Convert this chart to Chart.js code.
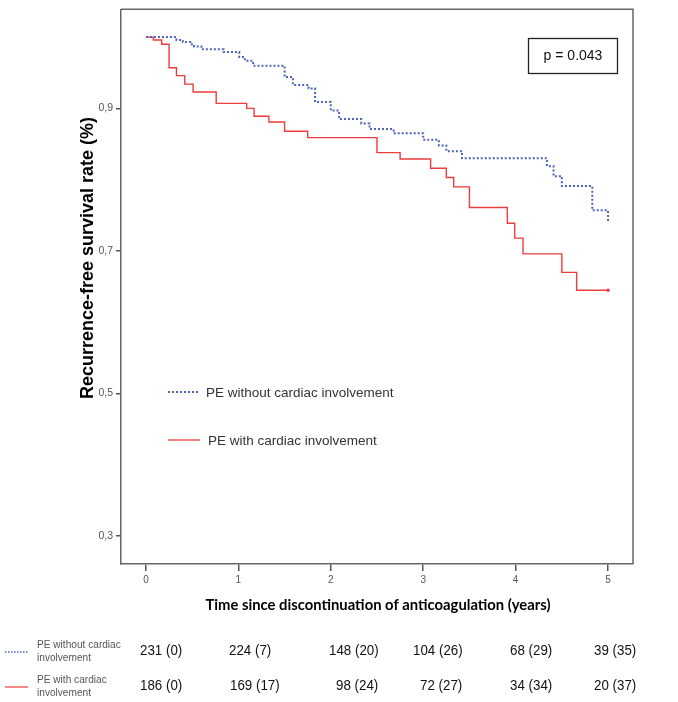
<!DOCTYPE html>
<html>
<head>
<meta charset="utf-8">
<script src="https://cdn.jsdelivr.net/npm/chart.js@4.4.1/dist/chart.umd.min.js"></script>
<style>
body{margin:0;background:#fff}
#wrap{width:678px;height:702px;position:relative}
</style>
</head>
<body>
<div id="wrap"><canvas id="km" width="678" height="702"></canvas></div>
<script>
// Kaplan-Meier steps
let timesWithout=[0,0.33,0.40,0.48,0.52,0.60,0.84,1.01,1.07,1.16,1.50,1.59,1.76,1.83,2.00,2.09,2.33,2.42,2.68,3.00,3.17,3.25,3.42,4.34,4.41,4.50,4.83,5.00]
let survWithout=[1.0,0.996,0.993,0.990,0.987,0.983,0.979,0.972,0.967,0.960,0.944,0.933,0.928,0.909,0.897,0.885,0.879,0.871,0.865,0.856,0.848,0.840,0.830,0.819,0.805,0.791,0.757,0.740]

let timesWith=[0,0.08,0.17,0.25,0.33,0.42,0.51,0.76,1.09,1.17,1.33,1.50,1.75,2.50,2.75,3.08,3.25,3.33,3.50,3.91,3.99,4.08,4.50,4.66,5.00]
let survWith=[1.0,0.996,0.990,0.957,0.946,0.934,0.923,0.907,0.900,0.889,0.881,0.868,0.859,0.838,0.829,0.816,0.803,0.790,0.761,0.739,0.718,0.696,0.670,0.645,0.645]

let xTicks=[0,1,2,3,4,5]
let yTicks=[0.3,0.5,0.7,0.9]

let seriesNames=['PE without cardiac involvement','PE with cardiac involvement']
let rowNames=[['PE without cardiac','involvement'],['PE with cardiac','involvement']]
let riskWithout=['231 (0)','224 (7)','148 (20)','104 (26)','68 (29)','39 (35)']
let riskWith=['186 (0)','169 (17)','98 (24)','72 (27)','34 (34)','20 (37)']
let pText='p = 0.043'

const BLUE='#4f63b8'
const RED='#ee3b3b'

function pts(t,s){
  let out=[]
  for(let i=0;i<t.length;i++){ out.push({x:t[i],y:s[i]}) }
  return out
}

// narrow look: squeeze text horizontally
function narrowText(c,txt,x,y,k){
  let w=c.measureText(txt).width
  c.fillText(txt,x,y,w*k)
}

// frame, legend, p box, titles and risk table
const extras={
  id:'extras',
  afterDraw(chart){
    const c=chart.ctx
    const a=chart.chartArea
    c.save()
    c.strokeStyle='#666'
    c.lineWidth=1.5
    c.beginPath()
    c.moveTo(a.left,a.top);c.lineTo(a.right,a.top);c.lineTo(a.right,a.bottom)
    c.stroke()

    // p value box
    c.strokeStyle='#222';c.lineWidth=1.3
    c.strokeRect(528.5,38.5,89,35)
    c.fillStyle='#111'
    c.font='14px "Liberation Sans", Arial, sans-serif'
    c.textAlign='center';c.textBaseline='middle'
    c.fillText(pText,573,56)

    // legend inside plot
    c.textAlign='left'
    c.font='13.5px "Liberation Sans", Arial, sans-serif'
    c.fillStyle='#333'
    c.lineWidth=2;c.strokeStyle=BLUE;c.setLineDash([2,2])
    c.beginPath();c.moveTo(168,392);c.lineTo(200,392);c.stroke()
    c.fillText(seriesNames[0],206,393)
    c.setLineDash([]);c.lineWidth=1.3;c.strokeStyle=RED
    c.beginPath();c.moveTo(168,440);c.lineTo(200,440);c.stroke()
    c.fillText(seriesNames[1],208,441)

    // axis titles
    c.fillStyle='#000'
    c.font='bold 18px "Liberation Sans", Arial, sans-serif'
    c.save()
    c.translate(88,258);c.rotate(-Math.PI/2)
    c.textAlign='center'
    c.fillText('Recurrence-free survival rate (%)',0,0)
    c.restore()
    c.font='bold 14.8px Lato, "Open Sans", sans-serif'
    c.textAlign='center'
    c.fillText('Time since discontinuation of anticoagulation (years)',378,605)

    // number at risk table
    const rowY=[651,686]
    const cols=[[140,229,329,413,510,594],[140,230,336,420,510,594]]
    const rows=[riskWithout,riskWith]
    for(let r=0;r<2;r++){
      c.lineWidth=r==0?1.5:1.2
      c.strokeStyle=r==0?BLUE:RED
      c.setLineDash(r==0?[1.5,1.5]:[])
      c.beginPath();c.moveTo(5,rowY[r]+1);c.lineTo(28,rowY[r]+1);c.stroke()
      c.setLineDash([])
      c.fillStyle='#555'
      c.textAlign='left'
      c.font='11.5px "Liberation Sans", Arial, sans-serif'
      narrowText(c,rowNames[r][0],37,rowY[r]-6,0.88)
      narrowText(c,rowNames[r][1],37,rowY[r]+7,0.88)
      c.fillStyle='#111'
      c.font='15.5px "Liberation Sans", Arial, sans-serif'
      for(let k=0;k<rows[r].length;k++){
        narrowText(c,rows[r][k],cols[r][k],rowY[r],0.86)
      }
    }
    c.restore()
  }
}

new Chart(document.getElementById('km'),{
  type:'line',
  data:{
    datasets:[{
      label:seriesNames[0],
      data:pts(timesWithout,survWithout),
      stepped:'before',
      borderColor:BLUE,
      borderWidth:2,
      borderDash:[2,2],
      pointRadius:0,
      fill:false
    },{
      label:seriesNames[1],
      data:pts(timesWith,survWith),
      stepped:'before',
      borderColor:RED,
      borderWidth:1.4,
      pointRadius:timesWith.map((t,i)=>i==timesWith.length-1?1.8:0),
      pointBackgroundColor:RED,
      pointBorderWidth:0,
      fill:false
    }]
  },
  options:{
    responsive:false,
    animation:false,
    layout:{padding:{left:0,top:5,right:45,bottom:0}},
    plugins:{legend:{display:false},tooltip:{enabled:false}},
    scales:{
      x:{
        type:'linear',
        min:-0.27,max:5.27,
        afterBuildTicks(s){ s.ticks=xTicks.map(v=>({value:v})) },
        afterFit(s){ s.height=138 },
        ticks:{color:'#555',font:{size:10,family:'"Liberation Sans", Arial, sans-serif'},padding:3},
        grid:{drawOnChartArea:false,tickLength:7,color:'#555',lineWidth:1.5},
        border:{color:'#666',width:1.5}
      },
      y:{
        type:'linear',
        min:0.261,max:1.039,
        afterBuildTicks(s){ s.ticks=yTicks.map(v=>({value:v})) },
        afterFit(s){ s.width=121 },
        ticks:{color:'#555',font:{size:10.5,family:'"Liberation Sans", Arial, sans-serif'},padding:3,
          callback:v=>v.toFixed(1).replace('.',',')},
        grid:{drawOnChartArea:false,tickLength:5,color:'#555',lineWidth:1.5},
        border:{color:'#666',width:1.5}
      }
    }
  },
  plugins:[extras]
})
</script>
</body>
</html>
